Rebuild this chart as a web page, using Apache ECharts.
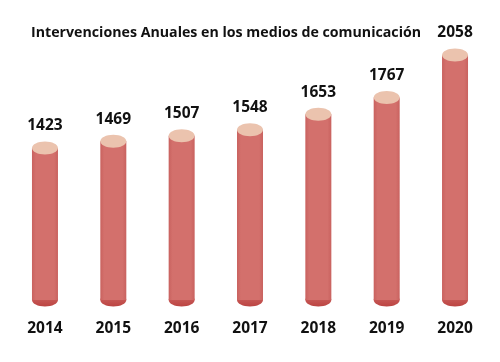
<!DOCTYPE html>
<html>
<head>
<meta charset="utf-8">
<script src="https://cdn.jsdelivr.net/npm/echarts@6/dist/echarts.min.js"></script>
<style>
html,body{margin:0;padding:0;background:#fff;}
#chart{width:500px;height:362px;}
</style>
</head>
<body>
<div id="chart"></div>
<script>
const titleText = 'Intervenciones Anuales en los medios de comunicación';
const years = ['2014', '2015', '2016', '2017', '2018', '2019', '2020'];
const interventions = [1423, 1469, 1507, 1548, 1653, 1767, 2058];

const axisMin = 385;
const axisMax = 2058;
const FONT = '"Open Sans", sans-serif';

const chart = echarts.init(document.getElementById('chart'));

function renderCylinder(params, api) {
  const i = api.value(0);
  const v = api.value(1);
  const top = api.coord([i, v]);
  const base = api.coord([i, axisMin]);
  const w = 26;
  const rx = w / 2;
  const ry = 6.5;
  const x0 = top[0] - rx;
  return {
    type: 'group',
    children: [
      {
        type: 'ellipse',
        shape: { cx: base[0], cy: base[1], rx: rx, ry: ry },
        style: {
          fill: new echarts.graphic.LinearGradient(0, 0, 0, 1, [
            { offset: 0, color: '#cf6763' },
            { offset: 1, color: '#bb4442' }
          ])
        }
      },
      {
        type: 'rect',
        shape: { x: x0, y: top[1], width: w, height: base[1] - top[1] },
        style: {
          fill: new echarts.graphic.LinearGradient(0, 0, 1, 0, [
            { offset: 0, color: '#c9625f' },
            { offset: 0.15, color: '#d3706c' },
            { offset: 0.85, color: '#d3706c' },
            { offset: 1, color: '#c9625f' }
          ])
        }
      },
      {
        type: 'ellipse',
        shape: { cx: top[0], cy: top[1], rx: rx, ry: ry },
        style: { fill: '#ebc3ae' }
      },
      {
        type: 'text',
        style: {
          x: top[0],
          y: top[1] - 22,
          text: String(v),
          align: 'center',
          verticalAlign: 'middle',
          fill: '#111',
          font: 'bold 15.5px ' + FONT
        }
      }
    ]
  };
}

chart.setOption({
  animation: false,
  title: {
    text: titleText,
    left: 26,
    top: 21,
    textStyle: { fontFamily: FONT, fontWeight: 'bold', fontSize: 14.2, color: '#111' }
  },
  grid: { left: 10.8, right: 10.8, top: 55, bottom: 62 },
  xAxis: {
    type: 'category',
    data: years,
    axisLine: { show: false },
    axisTick: { show: false },
    axisLabel: { margin: 21, fontFamily: FONT, fontWeight: 'bold', fontSize: 15.5, color: '#111' }
  },
  yAxis: {
    type: 'value',
    min: axisMin,
    max: axisMax,
    show: false,
    splitLine: { show: false }
  },
  series: [{
    type: 'custom',
    renderItem: renderCylinder,
    data: interventions.map((v, i) => [i, v]),
    clip: false
  }]
});
</script>
</body>
</html>
